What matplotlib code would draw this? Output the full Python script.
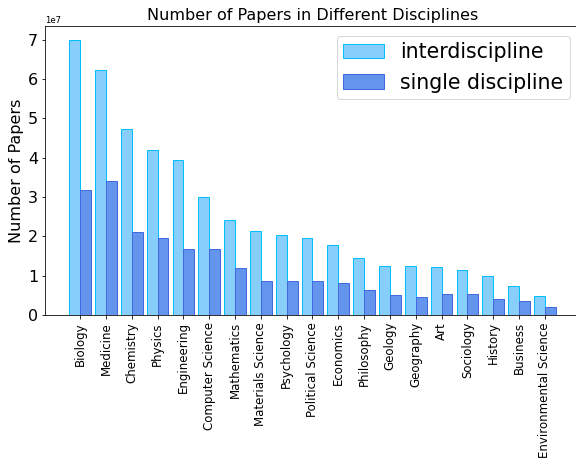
import numpy as np
import matplotlib
matplotlib.use("Agg")
import matplotlib.pyplot as plt

disciplines = ['Biology', 'Medicine', 'Chemistry', 'Physics', 'Engineering',
               'Computer Science', 'Mathematics', 'Materials Science', 'Psychology',
               'Political Science', 'Economics', 'Philosophy', 'Geology', 'Geography',
               'Art', 'Sociology', 'History', 'Business', 'Environmental Science']
inter = [7.00, 6.23, 4.72, 4.20, 3.95, 2.99, 2.42, 2.13, 2.03, 1.95,
         1.79, 1.45, 1.24, 1.24, 1.22, 1.14, 1.00, 0.75, 0.48]
single = [3.18, 3.40, 2.11, 1.95, 1.67, 1.67, 1.19, 0.87, 0.87, 0.86,
          0.82, 0.63, 0.51, 0.46, 0.54, 0.53, 0.41, 0.36, 0.20]

inter = np.array(inter) * 1e7
single = np.array(single) * 1e7

fig = plt.figure(figsize=(8, 462 / 72), dpi=72)
ax = fig.add_axes([45 / 576, 147 / 462, 535 / 576, 289 / 462])

x = np.arange(len(disciplines))
w = 0.42
ax.bar(x - w / 2, inter, w, color='#87CEFA', edgecolor='#00BFFF', linewidth=1.0,
       label='interdiscipline')
ax.bar(x + w / 2, single, w, color='#6495ED', edgecolor='#4169E1', linewidth=1.0,
       label='single discipline')

ax.set_xticks(x)
ax.set_xticklabels(disciplines, rotation=90, fontsize=11.8)
ax.tick_params(axis='y', labelsize=16)
ax.yaxis.get_offset_text().set_fontsize(8.5)
ax.set_ylabel('Number of Papers', fontsize=16)
ax.set_title('Number of Papers in Different Disciplines', fontsize=16)
ax.spines['right'].set_visible(False)
ax.legend(fontsize=20.5, loc='upper right', borderpad=0.3)

fig.savefig('out.png', dpi=72)
